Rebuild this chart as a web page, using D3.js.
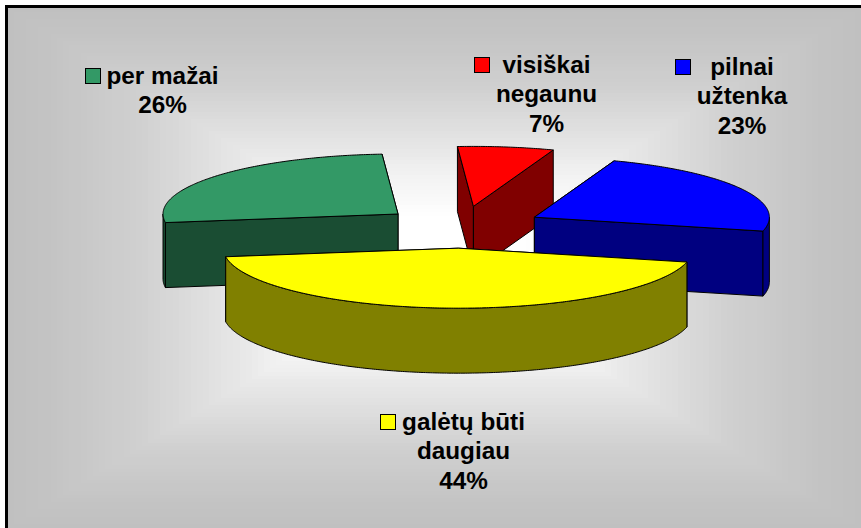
<!DOCTYPE html>
<html>
<head>
<meta charset="utf-8">
<style>html,body{margin:0;padding:0;background:#fff;overflow:hidden}svg{display:block}</style>
<script src="https://cdn.jsdelivr.net/npm/d3@7/dist/d3.min.js"></script>
</head>
<body>
<svg id="chart" width="861" height="528"></svg>
<script>
const categories = ["visiškai negaunu", "pilnai užtenka", "galėtų būti daugiau", "per mažai"];
const values = [6.6, 23.2, 44, 26.2];
const topColors = ["#ff0000", "#0000ff", "#ffff00", "#339966"];
const sideColors = ["#800000", "#000080", "#808000", "#1a4d33"];
const labelLines = [["visiškai", "negaunu"], ["pilnai", "užtenka"], ["galėtų būti", "daugiau"], ["per mažai"]];

const W = 861, H = 528;
const svg = d3.select("#chart");

// Frame and rectangular path gradient
const frame = {x: 8, y: 8};
const bgCx = (frame.x + W) / 2, bgCy = (frame.y + H) / 2;
const bgColor = d3.scaleLinear()
  .domain([0, 0.2, 0.39, 0.455, 0.7, 0.9, 1])
  .range(["#ffffff", "#ffffff", "#f0f0f0", "#e8e8e8", "#d0d0d0", "#c4c4c4", "#c0c0c0"]);
svg.append("rect").attr("x", 5).attr("y", 5).attr("width", W - 5).attr("height", H - 5).attr("fill", "#000");
const steps = d3.range(1, 0, -1 / 70);
svg.append("g").attr("shape-rendering", "crispEdges").selectAll("rect").data(steps).join("rect")
  .attr("x", t => bgCx - t * (W - frame.x) / 2)
  .attr("y", t => bgCy - t * (H - frame.y) / 2)
  .attr("width", t => t * (W - frame.x))
  .attr("height", t => t * (H - frame.y))
  .attr("fill", t => bgColor(t));

// Projection of the tilted pie
const rx = 235, ry = 60, depth = 65, explode = 0.35;
const cx = 462, cy = 227.2;
const xs = d3.scaleLinear().domain([-1, 1]).range([cx - rx, cx + rx]);
const ys = d3.scaleLinear().domain([-1, 1]).range([cy + ry, cy - ry]); // cos axis

const pie = d3.pie().sort(null).value(d => d)
  .startAngle(-3.9 * Math.PI / 180)
  .endAngle(356.1 * Math.PI / 180);
const arcs = pie(values);

const lineGen = d3.line();
function center(a) {
  const mid = (a.startAngle + a.endAngle) / 2;
  return {u: explode * Math.sin(mid), v: explode * Math.cos(mid)};
}
function pt(a, ang, r, dz) {
  const c = center(a);
  return [xs(c.u + r * Math.sin(ang)), ys(c.v + r * Math.cos(ang)) + dz];
}
function arcPoints(a, from, to, dz) {
  const n = Math.max(2, Math.ceil(Math.abs(to - from) / 0.01));
  return d3.range(n + 1).map(i => pt(a, from + (to - from) * i / n, 1, dz));
}
function topPath(a) {
  return lineGen([pt(a, 0, 0, 0), ...arcPoints(a, a.startAngle, a.endAngle, 0)]) + "Z";
}
function cutWall(a, ang) {
  return lineGen([pt(a, 0, 0, 0), pt(a, ang, 1, 0), pt(a, ang, 1, depth), pt(a, 0, 0, depth)]) + "Z";
}
function outerWall(a) {
  const from = Math.max(a.startAngle, Math.PI / 2), to = Math.min(a.endAngle, 3 * Math.PI / 2);
  if (to <= from) return null;
  return lineGen([...arcPoints(a, from, to, 0), ...arcPoints(a, to, from, depth)]) + "Z";
}

// Paint order: back slices first, and within a slice the farther cut wall first
const order = [3, 0, 1, 2];
const slices = svg.append("g").attr("stroke", "#000").attr("stroke-width", 1).attr("stroke-linejoin", "round");
order.forEach(i => {
  const a = arcs[i];
  const g = slices.append("g");
  [a.startAngle, a.endAngle]
    .sort((p, q) => Math.cos(q) - Math.cos(p))
    .forEach(ang => g.append("path").attr("d", cutWall(a, ang)).attr("fill", sideColors[i]));
  const ow = outerWall(a);
  if (ow) g.append("path").attr("d", ow).attr("fill", sideColors[i]);
  g.append("path").attr("d", topPath(a)).attr("fill", topColors[i]);
});

// Labels
const lineH = 29.3, fontSize = 24.3;
const labelAt = [
  {x: 546.5, y: 73, kx: 474.5, ky: 57.5},
  {x: 742, y: 75, kx: 675.5, ky: 59.5},
  {x: 463.5, y: 430, kx: 380.5, ky: 414.5},
  {x: 162.5, y: 84, kx: 85.5, ky: 68.5}
];
const labels = svg.append("g");
labelLines.forEach((lines, i) => {
  const p = labelAt[i];
  labels.append("rect").attr("x", p.kx).attr("y", p.ky).attr("width", 15).attr("height", 15)
    .attr("fill", topColors[i]).attr("stroke", "#000").attr("stroke-width", 1);
  labels.append("text")
    .attr("font-family", "'Liberation Sans', Arial, sans-serif")
    .attr("font-weight", 700).attr("font-size", fontSize).attr("fill", "#000")
    .attr("text-anchor", "middle")
    .selectAll("tspan").data([...lines, Math.round(values[i]) + "%"]).join("tspan")
    .attr("x", p.x).attr("y", (d, j) => p.y + j * lineH).text(d => d);
});
</script>
</body>
</html>
